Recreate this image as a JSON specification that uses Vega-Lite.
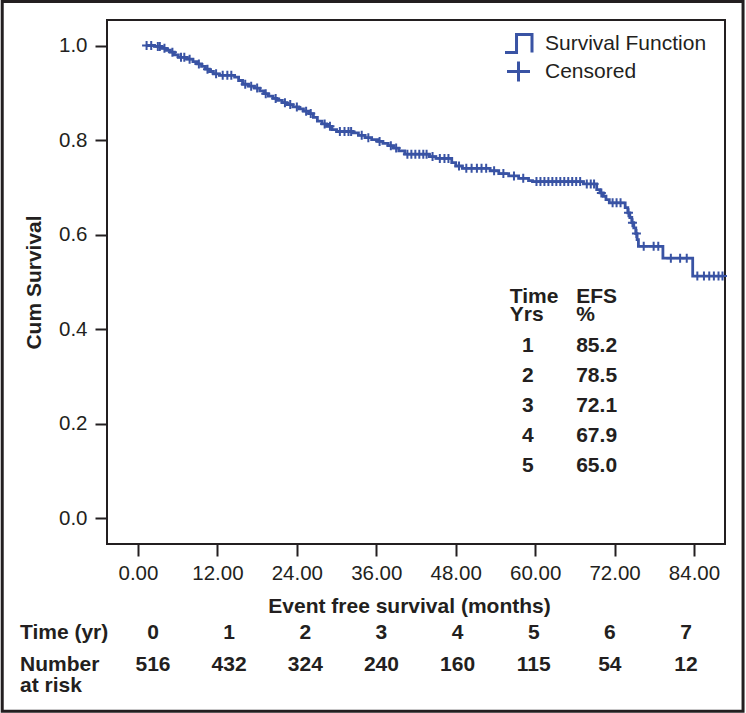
{
  "$schema": "https://vega.github.io/schema/vega-lite/v6.json",
  "width": 618,
  "height": 524,
  "autosize": {"type": "none"},
  "padding": {"left": 107, "top": 20, "right": 21, "bottom": 169},
  "background": "white",
  "config": {
    "font": "Liberation Sans",
    "view": {"stroke": "#231f20", "strokeWidth": 2},
    "axis": {
      "grid": false, "domain": false,
      "labelFont": "Liberation Sans", "titleFont": "Liberation Sans",
      "labelColor": "#231f20", "titleColor": "#231f20", "tickColor": "#231f20",
      "tickWidth": 2, "labelFontSize": 20.5, "titleFontSize": 21, "titleFontWeight": "bold"
    },
    "text": {"font": "Liberation Sans", "fontSize": 21, "fontWeight": "bold", "color": "#231f20"},
    "legend": {"labelFont": "Liberation Sans"}
  },
  "resolve": {"scale": {"x": "independent", "y": "independent"}},
  "layer": [
    {
      "data": {"values": [
        {"t": 1.2, "s": 1.000}, {"t": 2.5, "s": 0.998}, {"t": 3.6, "s": 0.994}, {"t": 4.3, "s": 0.990},
        {"t": 4.9, "s": 0.986}, {"t": 5.5, "s": 0.980}, {"t": 6.1, "s": 0.975}, {"t": 7.4, "s": 0.971},
        {"t": 8.3, "s": 0.966}, {"t": 8.9, "s": 0.961}, {"t": 9.6, "s": 0.956}, {"t": 10.2, "s": 0.950},
        {"t": 10.8, "s": 0.945}, {"t": 11.4, "s": 0.940}, {"t": 12.3, "s": 0.937}, {"t": 14.6, "s": 0.933},
        {"t": 15.2, "s": 0.926}, {"t": 15.8, "s": 0.918}, {"t": 16.7, "s": 0.914}, {"t": 17.6, "s": 0.910},
        {"t": 18.4, "s": 0.904}, {"t": 19.0, "s": 0.898}, {"t": 19.7, "s": 0.893}, {"t": 20.4, "s": 0.888},
        {"t": 21.0, "s": 0.884}, {"t": 21.8, "s": 0.879}, {"t": 22.5, "s": 0.875}, {"t": 23.4, "s": 0.870},
        {"t": 24.3, "s": 0.866}, {"t": 25.0, "s": 0.861}, {"t": 25.8, "s": 0.856}, {"t": 26.5, "s": 0.848},
        {"t": 27.1, "s": 0.840}, {"t": 27.8, "s": 0.834}, {"t": 28.5, "s": 0.829}, {"t": 29.3, "s": 0.822},
        {"t": 30.0, "s": 0.818}, {"t": 32.5, "s": 0.815}, {"t": 33.3, "s": 0.810}, {"t": 34.3, "s": 0.805},
        {"t": 35.3, "s": 0.801}, {"t": 36.2, "s": 0.797}, {"t": 37.0, "s": 0.793}, {"t": 37.8, "s": 0.788},
        {"t": 38.6, "s": 0.783}, {"t": 39.4, "s": 0.777}, {"t": 40.3, "s": 0.770}, {"t": 44.0, "s": 0.765},
        {"t": 45.0, "s": 0.761}, {"t": 47.4, "s": 0.752}, {"t": 48.0, "s": 0.745}, {"t": 49.0, "s": 0.740},
        {"t": 53.2, "s": 0.735}, {"t": 54.5, "s": 0.729}, {"t": 56.0, "s": 0.724}, {"t": 57.5, "s": 0.719},
        {"t": 59.0, "s": 0.714}, {"t": 59.6, "s": 0.712}, {"t": 67.3, "s": 0.707}, {"t": 69.3, "s": 0.695},
        {"t": 69.8, "s": 0.688}, {"t": 70.3, "s": 0.681}, {"t": 70.7, "s": 0.674}, {"t": 71.2, "s": 0.667},
        {"t": 73.6, "s": 0.657}, {"t": 74.0, "s": 0.646}, {"t": 74.3, "s": 0.636}, {"t": 74.6, "s": 0.625},
        {"t": 74.9, "s": 0.614}, {"t": 75.2, "s": 0.602}, {"t": 75.4, "s": 0.589}, {"t": 75.6, "s": 0.575},
        {"t": 79.3, "s": 0.550}, {"t": 83.8, "s": 0.512}, {"t": 88.5, "s": 0.512}
      ]},
      "layer": [
        {
          "mark": {"type": "line", "interpolate": "step-after", "strokeWidth": 2.8},
          "encoding": {
            "x": {
              "field": "t", "type": "quantitative",
              "scale": {"domain": [-4.68, 88.68], "nice": false, "zero": false},
              "axis": {
                "values": [0, 12, 24, 36, 48, 60, 72, 84], "format": ".2f",
                "title": "Event free survival (months)",
                "tickSize": 12, "labelPadding": 7, "titlePadding": 12, "titleX": 302
              }
            },
            "y": {
              "field": "s", "type": "quantitative",
              "scale": {"domain": [-0.055, 1.054], "nice": false, "zero": false},
              "axis": {
                "values": [0, 0.2, 0.4, 0.6, 0.8, 1.0], "format": ".1f",
                "title": "Cum Survival",
                "tickSize": 12, "labelPadding": 8, "titlePadding": 14
              }
            },
            "color": {
              "datum": "Survival Function", "type": "nominal",
              "scale": {"domain": ["Survival Function", "Censored"], "range": ["#3953a4", "#3953a4"]},
              "legend": {
                "title": null, "orient": "none", "legendX": 399, "legendY": 11,
                "padding": 0, "symbolSize": 484, "symbolStrokeWidth": 3,
                "labelFontSize": 21, "labelColor": "#231f20", "labelOffset": 14, "rowPadding": -6,
                "labelLimit": 0,
                "encode": {
                  "symbols": {
                    "update": {
                      "shape": {"signal": "datum.value === 'Censored' ? 'M-1.045,0H1.045M0,-0.909V0.909' : 'M-1.227,0.818H-0.18V-0.818H1.227V0.818'"},
                      "fill": {"value": "transparent"},
                      "stroke": {"value": "#3953a4"},
                      "strokeWidth": {"value": 3},
                      "opacity": {"value": 1}
                    }
                  }
                }
              }
            }
          }
        },
        {
          "data": {"values": [
            {"t": 1.3, "s": 1.000}, {"t": 2.0, "s": 1.000}, {"t": 3.0, "s": 0.998}, {"t": 3.3, "s": 0.998},
            {"t": 4.0, "s": 0.994}, {"t": 5.2, "s": 0.986}, {"t": 6.5, "s": 0.975}, {"t": 7.0, "s": 0.975},
            {"t": 7.8, "s": 0.971}, {"t": 9.2, "s": 0.961}, {"t": 10.5, "s": 0.950}, {"t": 11.8, "s": 0.940},
            {"t": 12.8, "s": 0.937}, {"t": 13.5, "s": 0.937}, {"t": 14.1, "s": 0.937}, {"t": 16.2, "s": 0.918},
            {"t": 17.1, "s": 0.914}, {"t": 18.0, "s": 0.910}, {"t": 19.3, "s": 0.898}, {"t": 20.8, "s": 0.888},
            {"t": 22.2, "s": 0.879}, {"t": 23.0, "s": 0.875}, {"t": 24.0, "s": 0.870}, {"t": 25.4, "s": 0.861},
            {"t": 26.1, "s": 0.856}, {"t": 28.2, "s": 0.834}, {"t": 29.0, "s": 0.829}, {"t": 30.5, "s": 0.818},
            {"t": 31.2, "s": 0.818}, {"t": 31.8, "s": 0.818}, {"t": 32.2, "s": 0.818}, {"t": 33.8, "s": 0.810},
            {"t": 34.8, "s": 0.805}, {"t": 36.5, "s": 0.797}, {"t": 38.2, "s": 0.788}, {"t": 39.0, "s": 0.783},
            {"t": 40.7, "s": 0.770}, {"t": 41.3, "s": 0.770}, {"t": 41.9, "s": 0.770}, {"t": 42.5, "s": 0.770},
            {"t": 43.1, "s": 0.770}, {"t": 43.6, "s": 0.770}, {"t": 44.5, "s": 0.765}, {"t": 45.6, "s": 0.761},
            {"t": 46.3, "s": 0.761}, {"t": 46.9, "s": 0.761}, {"t": 48.5, "s": 0.745}, {"t": 49.6, "s": 0.740},
            {"t": 50.4, "s": 0.740}, {"t": 51.2, "s": 0.740}, {"t": 51.9, "s": 0.740}, {"t": 52.6, "s": 0.740},
            {"t": 53.8, "s": 0.735}, {"t": 55.2, "s": 0.729}, {"t": 56.8, "s": 0.724}, {"t": 58.2, "s": 0.719},
            {"t": 60.2, "s": 0.712}, {"t": 60.8, "s": 0.712}, {"t": 61.4, "s": 0.712}, {"t": 62.0, "s": 0.712},
            {"t": 62.6, "s": 0.712}, {"t": 63.2, "s": 0.712}, {"t": 63.8, "s": 0.712}, {"t": 64.4, "s": 0.712},
            {"t": 65.0, "s": 0.712}, {"t": 65.6, "s": 0.712}, {"t": 66.2, "s": 0.712}, {"t": 66.8, "s": 0.712},
            {"t": 67.8, "s": 0.707}, {"t": 68.4, "s": 0.707}, {"t": 68.9, "s": 0.707}, {"t": 70.0, "s": 0.688},
            {"t": 71.7, "s": 0.667}, {"t": 72.3, "s": 0.667}, {"t": 72.9, "s": 0.667}, {"t": 74.1, "s": 0.646},
            {"t": 74.7, "s": 0.625}, {"t": 75.3, "s": 0.602}, {"t": 76.4, "s": 0.575}, {"t": 77.9, "s": 0.575},
            {"t": 78.6, "s": 0.575}, {"t": 80.5, "s": 0.550}, {"t": 81.9, "s": 0.550}, {"t": 82.9, "s": 0.550},
            {"t": 84.5, "s": 0.512}, {"t": 85.5, "s": 0.512}, {"t": 86.3, "s": 0.512}, {"t": 87.0, "s": 0.512},
            {"t": 87.7, "s": 0.512}, {"t": 88.3, "s": 0.512}
          ]},
          "mark": {"type": "point", "shape": "M-1,0H1M0,-1V1", "size": 81, "strokeWidth": 2, "filled": false, "opacity": 1},
          "encoding": {
            "x": {"field": "t", "type": "quantitative"},
            "y": {"field": "s", "type": "quantitative"},
            "color": {"datum": "Censored", "type": "nominal"}
          }
        }
      ]
    },
    {
      "data": {"values": [
        {"yr": 1, "efs": 85.2}, {"yr": 2, "efs": 78.5}, {"yr": 3, "efs": 72.1}, {"yr": 4, "efs": 67.9}, {"yr": 5, "efs": 65.0}
      ]},
      "layer": [
        {
          "mark": {"type": "text", "align": "center", "baseline": "middle"},
          "encoding": {
            "x": {"datum": 58.9, "type": "quantitative", "scale": {"domain": [-4.68, 88.68], "nice": false, "zero": false}, "axis": null},
            "y": {"field": "yr", "type": "quantitative", "scale": {"domain": [-9.853, 7.613], "reverse": true, "nice": false, "zero": false}, "axis": null},
            "text": {"field": "yr", "type": "quantitative"}
          }
        },
        {
          "mark": {"type": "text", "align": "left", "baseline": "middle"},
          "encoding": {
            "x": {"datum": 66.2, "type": "quantitative"},
            "y": {"field": "yr", "type": "quantitative"},
            "text": {"field": "efs", "type": "quantitative", "format": ".1f"}
          }
        },
        {
          "data": {"values": [{"h": "Time\nYrs"}]},
          "mark": {"type": "text", "align": "left", "baseline": "middle", "lineBreak": "\n", "lineHeight": 18.5},
          "encoding": {
            "x": {"datum": 56.16, "type": "quantitative"},
            "y": {"datum": -0.63, "type": "quantitative"},
            "text": {"field": "h", "type": "nominal"}
          }
        },
        {
          "data": {"values": [{"h": "EFS\n%"}]},
          "mark": {"type": "text", "align": "left", "baseline": "middle", "lineBreak": "\n", "lineHeight": 18.5},
          "encoding": {
            "x": {"datum": 66.2, "type": "quantitative"},
            "y": {"datum": -0.63, "type": "quantitative"},
            "text": {"field": "h", "type": "nominal"}
          }
        }
      ]
    },
    {
      "data": {"values": [
        {"year": 0, "n": 516}, {"year": 1, "n": 432}, {"year": 2, "n": 324}, {"year": 3, "n": 240},
        {"year": 4, "n": 160}, {"year": 5, "n": 115}, {"year": 6, "n": 54}, {"year": 7, "n": 12}
      ]},
      "layer": [
        {
          "mark": {"type": "text", "align": "center", "baseline": "middle"},
          "encoding": {
            "x": {"field": "year", "type": "quantitative", "scale": {"domain": [-0.604, 7.512], "nice": false, "zero": false}, "axis": null},
            "y": {"datum": -0.2436, "type": "quantitative", "scale": {"domain": [-0.055, 1.054], "nice": false, "zero": false}, "axis": null},
            "text": {"field": "year", "type": "quantitative"}
          }
        },
        {
          "mark": {"type": "text", "align": "center", "baseline": "middle"},
          "encoding": {
            "x": {"field": "year", "type": "quantitative"},
            "y": {"datum": -0.3104, "type": "quantitative"},
            "text": {"field": "n", "type": "quantitative"}
          }
        },
        {
          "data": {"values": [{"label": "Time (yr)"}]},
          "mark": {"type": "text", "align": "left", "baseline": "middle"},
          "encoding": {
            "x": {"datum": -1.747, "type": "quantitative"},
            "y": {"datum": -0.2436, "type": "quantitative"},
            "text": {"field": "label", "type": "nominal"}
          }
        },
        {
          "data": {"values": [{"label": "Number\nat risk"}]},
          "mark": {"type": "text", "align": "left", "baseline": "middle", "lineBreak": "\n", "lineHeight": 21},
          "encoding": {
            "x": {"datum": -1.747, "type": "quantitative"},
            "y": {"datum": -0.3104, "type": "quantitative"},
            "text": {"field": "label", "type": "nominal"}
          }
        },
        {
          "data": {"values": [{"frame": "outer"}]},
          "mark": {"type": "rect", "filled": false, "stroke": "#231f20", "strokeWidth": 3},
          "encoding": {
            "x": {"datum": -1.98, "type": "quantitative"},
            "x2": {"datum": 7.749},
            "y": {"datum": 1.0932, "type": "quantitative"},
            "y2": {"datum": -0.4089}
          }
        }
      ]
    }
  ]
}
